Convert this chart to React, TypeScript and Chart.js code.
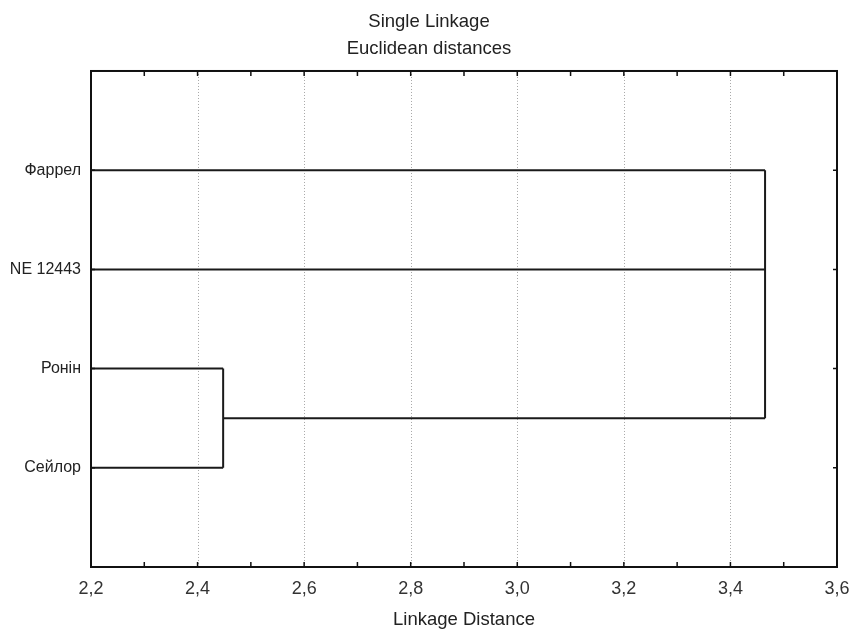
import React, { useEffect, useRef } from "react";
import { Chart, registerables } from "chart.js";

Chart.register(...registerables);

// Leaves of the dendrogram (top to bottom)
const leaves = ["Фаррел", "NE 12443", "Ронін", "Сейлор"];
// Linkage distances of the merges
const mergeRoninSeilor = 2.448; // Ронін + Сейлор
const mergeAll = 3.465; // Фаррел + NE 12443 + (Ронін, Сейлор)
const xMin = 2.2;
const xMax = 3.6;
const titleLines = ["Single Linkage", "Euclidean distances"];
const xAxisTitle = "Linkage Distance";

const FONT = "'Liberation Sans', Arial, Helvetica, sans-serif";

function buildSegments() {
  const yF = 1, yN = 2, yR = 3, yS = 4;
  const yRS = (yR + yS) / 2;
  const segs: { x: number; y: number }[][] = [
    // leaf lines
    [{ x: xMin, y: yF }, { x: mergeAll, y: yF }],
    [{ x: xMin, y: yN }, { x: mergeAll, y: yN }],
    [{ x: xMin, y: yR }, { x: mergeRoninSeilor, y: yR }],
    [{ x: xMin, y: yS }, { x: mergeRoninSeilor, y: yS }],
    // Ронін–Сейлор link
    [{ x: mergeRoninSeilor, y: yR }, { x: mergeRoninSeilor, y: yS }],
    [{ x: mergeRoninSeilor, y: yRS }, { x: mergeAll, y: yRS }],
    // final link
    [{ x: mergeAll, y: yF }, { x: mergeAll, y: yRS }],
  ];
  return segs;
}

const framePlugin = {
  id: "framePlugin",
  beforeDatasetsDraw(chart: any) {
    const { ctx, chartArea: a, scales } = chart;
    const xs = scales.x;
    ctx.save();
    ctx.strokeStyle = "#a8a8a8";
    ctx.lineWidth = 1;
    ctx.setLineDash([1, 2]);
    xs.ticks.forEach((t: any) => {
      const tt = Math.round(t.value * 10);
      if (tt % 2 !== 0) return;
      if (Math.abs(t.value - xMin) < 1e-6 || Math.abs(t.value - xMax) < 1e-6) return;
      const px = Math.round(xs.getPixelForValue(t.value)) + 0.5;
      ctx.beginPath();
      ctx.moveTo(px, a.top);
      ctx.lineTo(px, a.bottom);
      ctx.stroke();
    });
    ctx.restore();
  },
  afterDatasetsDraw(chart: any) {
    const { ctx, chartArea: a, scales } = chart;
    const xs = scales.x;
    const ys = scales.y;
    ctx.save();
    ctx.strokeStyle = "#111";
    ctx.lineWidth = 2;
    ctx.setLineDash([]);
    ctx.strokeRect(a.left, a.top, a.right - a.left, a.bottom - a.top);
    ctx.lineWidth = 1.5;
    xs.ticks.forEach((t: any) => {
      const px = xs.getPixelForValue(t.value);
      ctx.beginPath();
      ctx.moveTo(px, a.top);
      ctx.lineTo(px, a.top + 5);
      ctx.moveTo(px, a.bottom);
      ctx.lineTo(px, a.bottom - 5);
      ctx.stroke();
    });
    leaves.forEach((_, i) => {
      const py = ys.getPixelForValue(i + 1);
      ctx.beginPath();
      ctx.moveTo(a.right, py);
      ctx.lineTo(a.right - 4, py);
      ctx.moveTo(a.left, py);
      ctx.lineTo(a.left + 4, py);
      ctx.stroke();
    });
    ctx.restore();
  },
};

export default function App() {
  const ref = useRef<HTMLCanvasElement | null>(null);
  useEffect(() => {
    if (!ref.current) return;
    const segs = buildSegments();
    const chart = new Chart(ref.current, {
      type: "scatter",
      data: {
        datasets: segs.map((s) => ({
          data: s,
          showLine: true,
          borderColor: "#1a1a1a",
          borderWidth: 2,
          pointRadius: 0,
          pointHoverRadius: 0,
          fill: false,
          tension: 0,
        })),
      },
      options: {
        animation: false,
        responsive: true,
        maintainAspectRatio: false,
        events: [],
        layout: { padding: { left: 8, right: 0, top: 0, bottom: 0 } },
        plugins: {
          legend: { display: false },
          tooltip: { enabled: false },
          title: {
            display: true,
            text: titleLines,
            color: "#222",
            font: { family: FONT, size: 18.5, weight: "normal", lineHeight: 1.486 },
            padding: { top: 8, bottom: 8 },
          },
        },
        scales: {
          x: {
            type: "linear",
            min: xMin,
            max: xMax,
            grid: { display: false, drawTicks: false, tickLength: 0 },
            border: { display: false },
            ticks: {
              stepSize: 0.1,
              autoSkip: false,
              maxRotation: 0,
              padding: 11,
              color: "#333",
              font: { family: FONT, size: 18 },
              callback: (v: any) => {
                const t = Math.round(Number(v) * 10);
                if (t % 2 !== 0) return "";
                return (t / 10).toFixed(1).replace(".", ",");
              },
            },
            title: {
              display: true,
              text: xAxisTitle,
              color: "#222",
              font: { family: FONT, size: 18.5, lineHeight: 1 },
              padding: { top: 0, bottom: 0 },
            },
            afterFit: (s: any) => {
              s.height = 62;
              s.paddingLeft = 0;
              s.paddingRight = 13;
            },
          },
          y: {
            type: "linear",
            min: 0,
            max: leaves.length + 1,
            reverse: true,
            grid: { display: false, drawTicks: false, tickLength: 0 },
            border: { display: false },
            ticks: {
              stepSize: 1,
              autoSkip: false,
              padding: 10,
              color: "#222",
              font: { family: FONT, size: 16 },
              callback: (v: any) => leaves[Number(v) - 1] ?? "",
            },
            afterFit: (s: any) => {
              s.width = 83;
              s._computeLabelArea = () => undefined;
            },
          },
        },
      },
      plugins: [framePlugin],
    });
    return () => chart.destroy();
  }, []);
  return (
    <div style={{ position: "fixed", left: 0, top: 0, width: 850, height: 629, background: "#fff" }}>
      <canvas ref={ref} />
    </div>
  );
}
